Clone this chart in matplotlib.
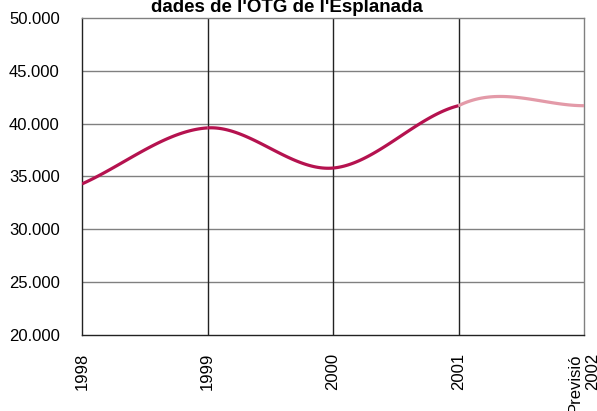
import numpy as np
import matplotlib

matplotlib.use("Agg")
import matplotlib.pyplot as plt

plt.rcParams["font.family"] = ["Liberation Sans", "DejaVu Sans"]

# Visitors per year (last point is a forecast)
YEARS = ["1998", "1999", "2000", "2001", "Previsió\n2002"]
VALUES = [34300, 39600, 35800, 41700, 41700]
N_ACTUAL = 4  # first four points are measured, the rest is forecast

C_ACTUAL = "#b5124f"
C_FORECAST = "#e39aa8"


def smooth(xs, ys, k=1 / 6, lead=None, n=60):
    """Bezier smoothing through the points, one curve per segment.

    lead maps a segment index to a stronger vertical pull at its start.
    """
    lead = lead or {}
    xs = np.asarray(xs, float)
    ys = np.asarray(ys, float)
    last = len(xs) - 1
    segs = []
    for i in range(last):
        i0, i3 = max(i - 1, 0), min(i + 2, last)
        p1 = np.array([xs[i], ys[i]])
        p2 = np.array([xs[i + 1], ys[i + 1]])
        d1 = (np.array([xs[i + 1], ys[i + 1]]) - np.array([xs[i0], ys[i0]]))
        d2 = (np.array([xs[i3], ys[i3]]) - np.array([xs[i], ys[i]]))
        d1 = d1 * (k if i > 0 else 2 * k)
        d2 = d2 * (k if i + 2 <= last else 2 * k)
        if i in lead:
            d1[1] *= lead[i]
        c1 = p1 + d1
        c2 = p2 - d2
        t = np.linspace(0, 1, n)[:, None]
        pts = ((1 - t) ** 3) * p1 + 3 * ((1 - t) ** 2) * t * c1 \
            + 3 * (1 - t) * t ** 2 * c2 + t ** 3 * p2
        segs.append(pts)
    return segs


fig = plt.figure(figsize=(5.97, 4.11), dpi=100)
ax = fig.add_axes([82 / 597, 1 - 335 / 411, (584 - 82) / 597, (335 - 18) / 411])

x = np.arange(len(YEARS))
segs = smooth(x, VALUES, lead={N_ACTUAL - 1: 2.0})
for i, s in enumerate(segs):
    color = C_ACTUAL if i < N_ACTUAL - 1 else C_FORECAST
    ax.plot(s[:, 0], s[:, 1], color=color, lw=2.3, solid_capstyle="butt", zorder=3)

ax.set_xlim(0, len(YEARS) - 1)
ax.set_ylim(20000, 50000)
ax.set_yticks(np.arange(20000, 50001, 5000))
ax.set_yticklabels([f"{v // 1000}.000" for v in range(20000, 50001, 5000)],
                   fontsize=12, va="center_baseline")
ax.set_xticks(x)
ax.set_xticklabels(YEARS, rotation=90, fontsize=12, va="top", ha="center",
                   multialignment="right")
ax.tick_params(length=0)
ax.tick_params(axis="x", pad=13)
ax.tick_params(axis="y", pad=16)

for v in range(25000, 50000, 5000):
    ax.axhline(v, color="#808080", lw=1, zorder=1)
for xi in x[1:-1]:
    ax.axvline(xi, color="#222222", lw=1, zorder=1)
for side in ["left", "bottom"]:
    ax.spines[side].set_color("#222222")
for side in ["top", "right"]:
    ax.spines[side].set_color("#808080")
for sp in ax.spines.values():
    sp.set_linewidth(1)

fig.text(0.481, 1 - 12 / 411, "dades de l'OTG de l'Esplanada", ha="center",
         va="baseline", fontsize=13.5, fontweight="bold")

fig.savefig("out.png", dpi=100)
